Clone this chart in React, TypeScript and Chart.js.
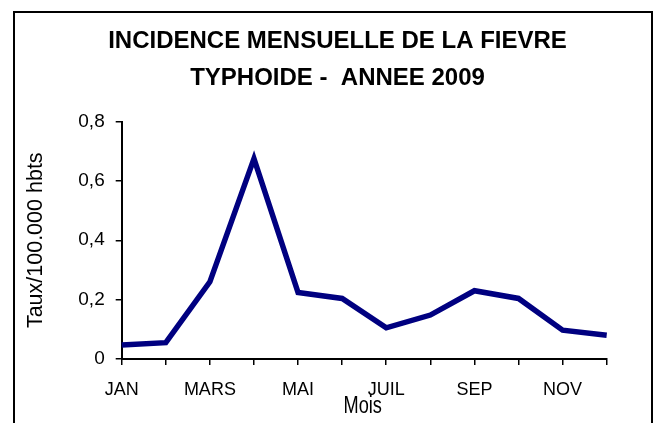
import React, { useEffect, useRef } from "react";
import { Chart, registerables } from "chart.js";

Chart.register(...registerables);

const months = ["JAN", "FEV", "MARS", "AVR", "MAI", "JUIN", "JUIL", "AOUT", "SEP", "OCT", "NOV", "DEC"];
const incidence = [0.047, 0.055, 0.26, 0.675, 0.224, 0.204, 0.105, 0.148, 0.23, 0.204, 0.097, 0.08];
const titleLines = ["INCIDENCE MENSUELLE DE LA FIEVRE", "TYPHOIDE -  ANNEE 2009"];
const yAxisTitle = "Taux/100.000 hbts";
const xAxisTitle = "Mois";

const fontFamily = "'Liberation Sans', Arial, sans-serif";

// draws the two-line bold title and the condensed x-axis title
const textPlugin = {
  id: "textPlugin",
  afterDraw(chart: any) {
    const { ctx, chartArea } = chart;
    ctx.save();
    ctx.fillStyle = "#000";
    ctx.textAlign = "center";
    ctx.textBaseline = "alphabetic";
    ctx.font = "bold 24px " + fontFamily;
    const cx = 337.5;
    const baselines = [48.3, 85];
    titleLines.forEach((t, i) => ctx.fillText(t, cx, baselines[i]));

    const mx = (chartArea.left + chartArea.right) / 2 - 1.5;
    const my = chartArea.bottom + 54.3;
    ctx.font = "23px " + fontFamily;
    ctx.translate(mx, my);
    ctx.scale(0.79, 1);
    ctx.fillText(xAxisTitle, 0, 0);
    ctx.restore();
  },
};

export default function App() {
  const ref = useRef<HTMLCanvasElement | null>(null);

  useEffect(() => {
    if (!ref.current) return;
    const chart = new Chart(ref.current, {
      type: "line",
      data: {
        labels: months,
        datasets: [
          {
            data: incidence,
            borderColor: "#000080",
            backgroundColor: "#000080",
            borderWidth: 5.5,
            pointRadius: 0,
            tension: 0,
            fill: false,
          },
        ],
      },
      plugins: [textPlugin],
      options: {
        responsive: false,
        animation: false,
        layout: { padding: { left: 21, right: 47.3, top: 121.5, bottom: 0 } },
        plugins: {
          legend: { display: false },
          tooltip: { enabled: false },
          title: { display: false },
        },
        scales: {
          x: {
            offset: false,
            grid: { drawOnChartArea: false, drawTicks: true, tickLength: 6, color: "#000", lineWidth: 1.5 },
            border: { display: true, color: "#000", width: 2 },
            ticks: {
              autoSkip: false,
              maxRotation: 0,
              color: "#000",
              padding: 14,
              font: { family: fontFamily, size: 18 },
              callback: (_v: any, i: number) => (i % 2 === 0 ? months[i] : ""),
            },
            title: { display: false },
            afterFit: (s: any) => {
              s.height = 64;
            },
          },
          y: {
            min: 0,
            max: 0.8,
            grid: { drawOnChartArea: false, drawTicks: true, tickLength: 6, color: "#000", lineWidth: 1.5 },
            border: { display: true, color: "#000", width: 2 },
            ticks: {
              stepSize: 0.2,
              color: "#000",
              padding: 11,
              font: { family: fontFamily, size: 19 },
              callback: (v: any) => (Number(v) === 0 ? "0" : Number(v).toFixed(1).replace(".", ",")),
            },
            title: {
              display: true,
              text: yAxisTitle,
              color: "#000",
              font: { family: fontFamily, size: 21.5, lineHeight: 1.2 },
              padding: { top: 2, bottom: 0 },
            },
            afterFit: (s: any) => {
              s.width = 100.7;
            },
          },
        },
      },
    });
    return () => chart.destroy();
  }, []);

  return (
    <div
      style={{
        position: "fixed",
        left: 0,
        top: 0,
        width: 654,
        height: 423,
        overflow: "hidden",
        background: "#fff",
      }}
    >
      <div
        style={{
          position: "absolute",
          left: 13,
          top: 11,
          width: 640,
          height: 440,
          boxSizing: "border-box",
          border: "2px solid #000",
        }}
      />
      <canvas
        ref={ref}
        width={654}
        height={423}
        style={{ position: "absolute", left: 0, top: 0, width: 654, height: 423 }}
      />
    </div>
  );
}
